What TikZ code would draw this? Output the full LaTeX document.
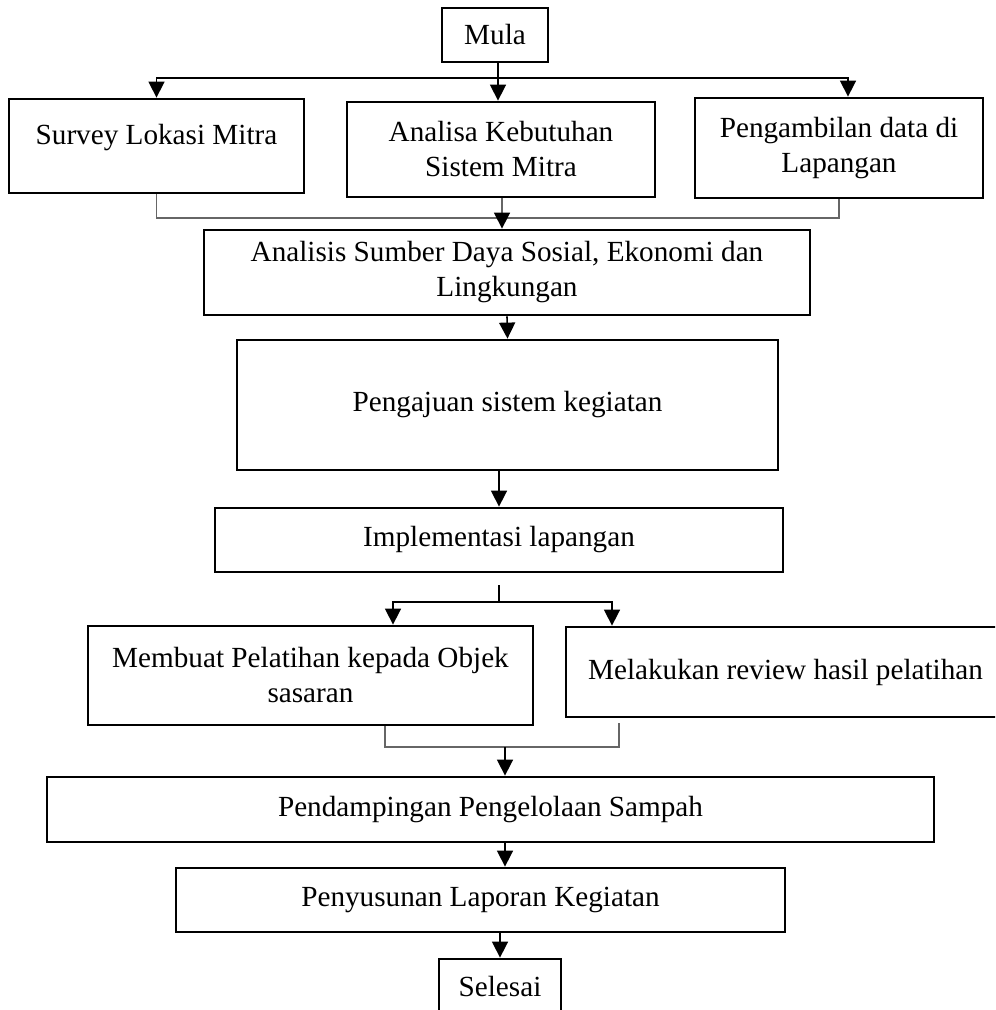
\documentclass[tikz,border=0pt]{standalone}
\usepackage{fontspec}
\setmainfont{Liberation Serif}
\usetikzlibrary{arrows.meta}
\newcommand{\boxfont}{\fontsize{14.6pt}{17.5pt}\selectfont}

\begin{document}
\begin{tikzpicture}[x=0.5pt,y=-0.5pt,
  box/.style={draw,line width=1.4pt,inner sep=0pt,align=center,font=\boxfont},
  arr/.style={-{Triangle[width=8pt,length=8pt]},line width=0.8pt},
  arrs/.style={{Triangle[width=8pt,length=8pt]}-{Triangle[width=8pt,length=8pt]},line width=0.8pt},
  link/.style={line width=0.6pt,black!60},
  lift/.style={text depth=#1}]
\path[use as bounding box,clip] (0,0) rectangle (995,1010);

% boxes
\node[box,minimum width=53pt,minimum height=27pt] (mula) at (495,35) {Mula};
\node[box,minimum width=147.5pt,minimum height=47pt,lift=11.3pt] (survey) at (156.5,146) {Survey Lokasi Mitra};
\node[box,minimum width=154pt,minimum height=47.5pt] (analisa) at (501,149.5) {Analisa Kebutuhan\\Sistem Mitra};
\node[box,minimum width=144pt,minimum height=50pt] (ambil) at (839,148) {Pengambilan data di\\Lapangan};
\node[box,minimum width=303pt,minimum height=42.5pt] (analisis) at (507,272.5) {Analisis Sumber Daya Sosial, Ekonomi dan\\Lingkungan};
\node[box,minimum width=270.5pt,minimum height=65pt] (ajuan) at (507.5,405) {Pengajuan sistem kegiatan};
\node[box,minimum width=284pt,minimum height=32pt] (impl) at (499,540) {Implementasi lapangan};
\node[box,minimum width=222.5pt,minimum height=49.5pt] (latih) at (310.5,675.5) {Membuat Pelatihan kepada Objek\\sasaran};
\node[box,minimum width=219.5pt,minimum height=45pt] (review) at (785.5,672) {Melakukan review hasil pelatihan};
\node[box,minimum width=443.5pt,minimum height=32.5pt] (damping) at (490.5,809.5) {Pendampingan Pengelolaan Sampah};
\node[box,minimum width=304.5pt,minimum height=32pt] (susun) at (480.5,900) {Penyusunan Laporan Kegiatan};
\node[box,minimum width=61pt,minimum height=27.5pt] (selesai) at (500,986.5) {Selesai};

% top split
\coordinate (top) at (498,78);
\draw[arrs] (survey.north) |- (top) -| ([xshift=4.5pt]ambil.north);
\draw[arr] (top |- mula.south) -- (top |- analisa.north);

% join into analisis
\coordinate (mid) at (502,218);
\draw[link] (survey.south) |- (mid) -| (ambil.south);
\draw[link] (mid |- analisa.south) -- (mid);
\draw[arr] (mid) -- (mid |- analisis.north);

\draw[arr] (analisis.south) -- (ajuan.north);
\draw[arr] (impl.north |- ajuan.south) -- (impl.north);

% second split
\coordinate (fork) at (499,585);
\coordinate (forkb) at (499,602);
\draw[line width=0.6pt] (fork) -- (forkb);
\draw[arrs] ([xshift=41.25pt]latih.north) |- (forkb) -| ([xshift=-86.75pt]review.north);

% join into pendampingan
\coordinate (join) at (505,747);
\coordinate (rend) at (619,723);
\draw[link] ([xshift=37.25pt]latih.south) |- (join) -| (rend);
\draw[arr] (join) -- (join |- damping.north);
\draw[arr] (damping.south -| join) -- (susun.north -| join);
\draw[arr] (selesai.north |- susun.south) -- (selesai.north);
\end{tikzpicture}
\end{document}
